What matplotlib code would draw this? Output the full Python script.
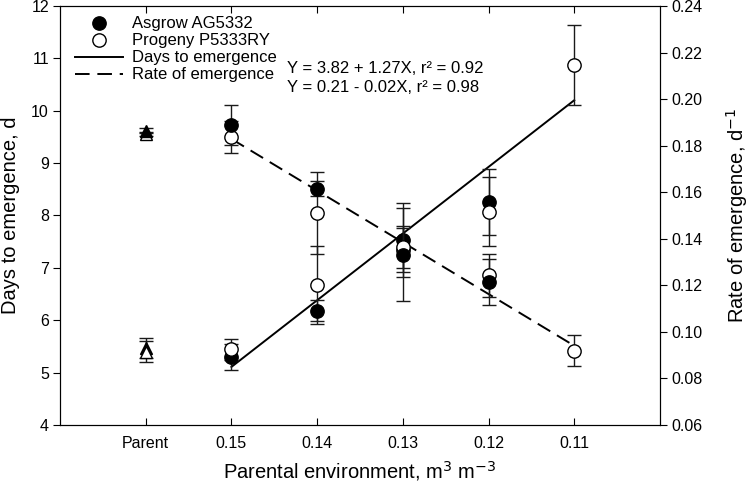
import numpy as np
import matplotlib
matplotlib.use('Agg')
import matplotlib.pyplot as plt
from matplotlib.lines import Line2D
from matplotlib.ticker import FixedLocator, FormatStrFormatter

plt.rcParams['font.family'] = ['Liberation Sans', 'DejaVu Sans']

# ---------------- data ----------------
categories = ['Parent', '0.15', '0.14', '0.13', '0.12', '0.11']

# Days to emergence (d)
days_asgrow = [5.47, 5.30, 6.18, 7.53, 8.26, np.nan]
days_asgrow_err = [0.20, 0.25, 0.20, 0.70, 0.63, np.nan]
days_progeny = [5.40, 5.45, 6.67, 7.35, 8.07, 10.87]
days_progeny_err = [0.20, 0.20, 0.75, 0.42, 0.66, 0.76]

# Rate of emergence (d-1)
rate_asgrow = [0.1865, 0.1890, 0.1615, 0.1331, 0.1214, np.nan]
rate_asgrow_err = [0.001, 0.0086, 0.0032, 0.0200, 0.0099, np.nan]
rate_progeny = [0.1850, 0.1838, 0.1510, 0.1365, 0.1244, 0.0920]
rate_progeny_err = [0.001, 0.0068, 0.0175, 0.0092, 0.0092, 0.0068]

legend_labels = ['Asgrow AG5332', 'Progeny P5333RY', 'Days to emergence', 'Rate of emergence']
equations = ['Y = 3.82 + 1.27X, r² = 0.92', 'Y = 0.21 - 0.02X, r² = 0.98']

# ---------------- figure ----------------
fig = plt.figure(figsize=(7.5, 4.91), dpi=100)
ax = fig.add_axes([0.08, 0.1344, 0.80, 0.8534])
ax2 = ax.twinx()

pos = np.arange(len(categories))
env = pos[1:]  # parental environment positions (X = 1..5)

ink = '#000000'
ebc = '#1a1a1a'
ms_c = 9.6
ms_t = 8

def mean_of(a, b):
    return np.nanmean(np.vstack([a, b]), axis=0)

# regression lines
d_mean = mean_of(days_asgrow, days_progeny)[1:]
r_mean = mean_of(rate_asgrow, rate_progeny)[1:]
d_coef = np.polyfit(env, d_mean, 1)
r_coef = np.polyfit(env, r_mean, 1)
xl = np.array([env[0], env[-1]])
ax.plot(xl, np.polyval(d_coef, xl), color=ink, lw=1.4, zorder=2)
ax2.plot(xl, np.polyval(r_coef, xl), color=ink, lw=1.4, dashes=(7.5, 4), zorder=2)

eb_kw = dict(fmt='none', ecolor=ebc, elinewidth=1.0, capsize=5, capthick=1.0, zorder=3)

def draw(a, y, e, filled):
    y = np.asarray(y, float)
    e = np.asarray(e, float)
    a.errorbar(pos, y, yerr=e, **eb_kw)
    fc = ink if filled else 'white'
    a.plot(pos[:1], y[:1], linestyle='none', marker='^', ms=ms_t, mfc=fc, mec=ink, mew=1.0, zorder=4)
    a.plot(pos[1:], y[1:], linestyle='none', marker='o', ms=ms_c, mfc=fc, mec=ink, mew=1.0, zorder=4)

draw(ax, days_asgrow, days_asgrow_err, True)
draw(ax, days_progeny, days_progeny_err, False)
draw(ax2, rate_progeny, rate_progeny_err, False)
draw(ax2, rate_asgrow, rate_asgrow_err, True)

# axes settings
ax.set_xlim(-1, 6)
ax.set_ylim(4, 12)
ax2.set_ylim(0.06, 0.24)
ax.set_xticks(pos)
ax.set_xticklabels(categories)
ax.set_yticks(np.arange(4, 13, 1))
ax2.yaxis.set_major_locator(FixedLocator(np.arange(0.06, 0.2401, 0.02)))
ax2.yaxis.set_major_formatter(FormatStrFormatter('%.2f'))

ax.tick_params(axis='x', which='both', direction='in', top=True, length=5, width=0.8,
               labelsize=11.5, pad=8, colors=ink)
ax.tick_params(axis='y', direction='out', length=5, width=0.8, labelsize=11.5, pad=3)
ax2.tick_params(axis='y', direction='out', length=5, width=0.8, labelsize=11.5, pad=3)
for a in (ax, ax2):
    for s in a.spines.values():
        s.set_linewidth(0.8)

ax.set_xlabel('Parental environment, m$^{3}$ m$^{-3}$', fontsize=14.5, labelpad=6)
ax.set_ylabel('Days to emergence, d', fontsize=14.5, labelpad=8)
ax2.set_ylabel('Rate of emergence, d$^{-1}$', fontsize=14.5, labelpad=16)

# legend
handles = [
    Line2D([], [], linestyle='none', marker='o', ms=ms_c, mfc=ink, mec=ink),
    Line2D([], [], linestyle='none', marker='o', ms=ms_c, mfc='white', mec=ink),
    Line2D([], [], color=ink, lw=1.4),
    Line2D([], [], color=ink, lw=1.4, dashes=(7.5, 4)),
]
leg = ax2.legend(handles, legend_labels, loc='upper left', bbox_to_anchor=(0.025, 0.975),
                 frameon=False, fontsize=12, handlelength=2.9, handletextpad=0.55,
                 labelspacing=0.12, borderpad=0, borderaxespad=0)

ax2.text(0.378, 0.850, equations[0], transform=ax.transAxes, fontsize=12, va='center', ha='left')
ax2.text(0.378, 0.805, equations[1], transform=ax.transAxes, fontsize=12, va='center', ha='left')

fig.savefig('out.png', dpi=100)
